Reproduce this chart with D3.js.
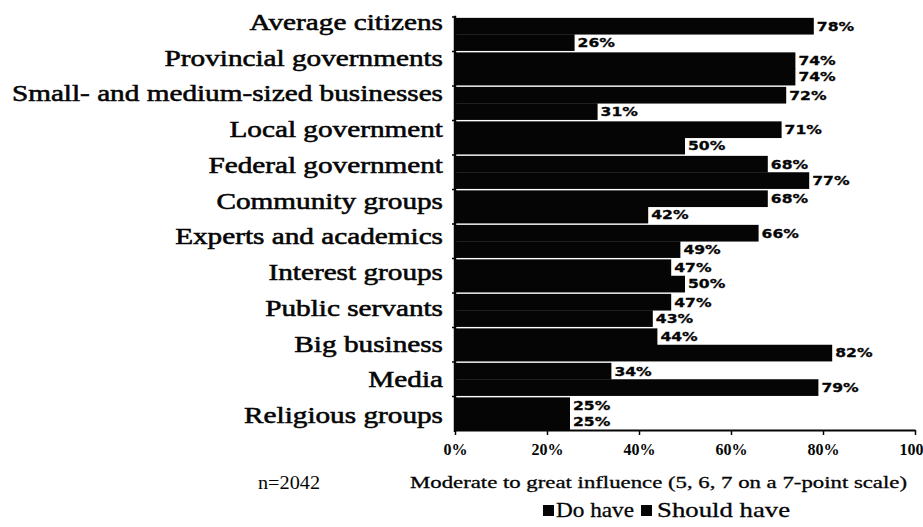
<!DOCTYPE html>
<html>
<head>
<meta charset="utf-8">
<script src="https://cdn.jsdelivr.net/npm/d3@7"></script>
<style>
  html, body { margin: 0; padding: 0; background: #fff; }
  svg { display: block; }
</style>
</head>
<body>
<svg id="chart" width="923" height="527"></svg>
<script>
// Groups, top to bottom
const categories = [
  "Average citizens",
  "Provincial governments",
  "Small- and medium-sized businesses",
  "Local government",
  "Federal government",
  "Community groups",
  "Experts and academics",
  "Interest groups",
  "Public servants",
  "Big business",
  "Media",
  "Religious groups"
];
// Share reporting moderate to great influence (%)
const doHave     = [78, 74, 72, 71, 68, 68, 66, 47, 47, 44, 34, 25];
const shouldHave = [26, 74, 31, 50, 77, 42, 49, 50, 43, 82, 79, 25];
const seriesNames = ["Do have", "Should have"];
const xTicks = [0, 20, 40, 60, 80, 100];
const xTickLabels = ["0%", "20%", "40%", "60%", "80%", "100"];
const axisTitle = "Moderate to great influence (5, 6, 7 on a 7-point scale)";
const sampleNote = "n=2042";

const svg = d3.select("#chart");
const serif = "'Liberation Serif', 'Times New Roman', serif";
const ink = "#050505";

const x = d3.scaleLinear().domain([0, 100]).range([455, 915]);
const y = d3.scaleBand().domain(categories).range([17, 431])
  .paddingInner(0.05).paddingOuter(0.025);
const ySub = d3.scaleBand().domain(seriesNames).range([0, y.bandwidth()]);
const yLabel = d3.scalePoint().domain(categories).range([30, 423]);

const rows = categories.map((c, i) => ({ cat: c, values: [doHave[i], shouldHave[i]] }));

// Bars
const groups = svg.append("g").selectAll("g").data(rows).join("g")
  .attr("transform", d => `translate(0,${y(d.cat)})`);

groups.selectAll("rect")
  .data(d => d.values.map((v, k) => ({ v, s: seriesNames[k] })))
  .join("rect")
  .attr("x", x(0))
  .attr("y", d => ySub(d.s))
  .attr("width", d => x(d.v) - x(0))
  .attr("height", ySub.bandwidth() + 0.3)
  .attr("fill", ink);

// Value labels at bar ends
groups.selectAll("text")
  .data(d => d.values.map((v, k) => ({ v, s: seriesNames[k] })))
  .join("text")
  .attr("transform", d => `translate(${x(d.v) + 3},${ySub(d.s) + ySub.bandwidth() / 2 + 1}) scale(1.25,1)`)
  .attr("dominant-baseline", "middle")
  .attr("font-family", "'DejaVu Sans', sans-serif")
  .attr("font-weight", "bold")
  .attr("font-size", 12.5)
  .attr("fill", ink)
  .attr("stroke", ink)
  .attr("stroke-width", 0.3)
  .text(d => d.v + "%");

// Category labels
svg.append("g").selectAll("text").data(categories).join("text")
  .attr("transform", d => `translate(443,${yLabel(d)}) scale(1.3,1)`)
  .attr("text-anchor", "end")
  .attr("font-family", serif)
  .attr("font-size", 22.5)
  .attr("fill", ink)
  .attr("stroke", ink)
  .attr("stroke-width", 0.55)
  .text(d => d);

// Vertical axis with short ticks at group boundaries
const gapHalf = (y.step() - y.bandwidth()) / 2;
const vAxis = svg.append("g");
vAxis.append("line")
  .attr("x1", x(0)).attr("x2", x(0))
  .attr("y1", y(categories[0]) - 2).attr("y2", 432)
  .attr("stroke", ink).attr("stroke-width", 2.5);
vAxis.selectAll("line.tk").data(categories).join("line")
  .attr("class", "tk")
  .attr("x1", x(0) - 3).attr("x2", x(0))
  .attr("y1", d => y(d) - gapHalf).attr("y2", d => y(d) - gapHalf)
  .attr("stroke", ink).attr("stroke-width", 1.5);

// Horizontal axis
const xAxis = svg.append("g")
  .attr("transform", "translate(0,430)")
  .call(d3.axisBottom(x).tickValues(xTicks).tickFormat((d, i) => xTickLabels[i])
    .tickSize(5).tickSizeOuter(0));
xAxis.select(".domain").attr("stroke", ink).attr("stroke-width", 2);
xAxis.selectAll(".tick line").attr("stroke", ink).attr("stroke-width", 1.5);
xAxis.selectAll(".tick text")
  .attr("y", 25).attr("dy", 0)
  .attr("font-family", serif)
  .attr("font-weight", "bold")
  .attr("font-size", 16)
  .attr("fill", ink);
// last label sits against the right edge
xAxis.selectAll(".tick text").filter((d, i) => i === xTicks.length - 1)
  .attr("text-anchor", "end").attr("x", 923 - x(100));

// Axis title and sample size
svg.append("text")
  .attr("x", 410).attr("y", 488)
  .attr("textLength", 497).attr("lengthAdjust", "spacingAndGlyphs")
  .attr("font-family", serif).attr("font-size", 16.5)
  .attr("fill", ink).attr("stroke", ink).attr("stroke-width", 0.3)
  .text(axisTitle);

svg.append("text")
  .attr("x", 258).attr("y", 489)
  .attr("textLength", 62).attr("lengthAdjust", "spacingAndGlyphs")
  .attr("font-family", serif).attr("font-size", 18)
  .attr("fill", ink)
  .text(sampleNote);

// Legend
const legendItems = [
  { name: seriesNames[0], box: 543, tx: 556, w: 78 },
  { name: seriesNames[1], box: 641, tx: 657, w: 133 }
];
const lg = svg.append("g").selectAll("g").data(legendItems).join("g");
lg.append("rect")
  .attr("x", d => d.box).attr("y", 505)
  .attr("width", 11).attr("height", 11)
  .attr("fill", ink);
lg.append("text")
  .attr("x", d => d.tx).attr("y", 517)
  .attr("textLength", d => d.w).attr("lengthAdjust", "spacingAndGlyphs")
  .attr("font-family", serif).attr("font-size", 21)
  .attr("fill", ink).attr("stroke", ink).attr("stroke-width", 0.3)
  .text(d => d.name);
</script>
</body>
</html>
